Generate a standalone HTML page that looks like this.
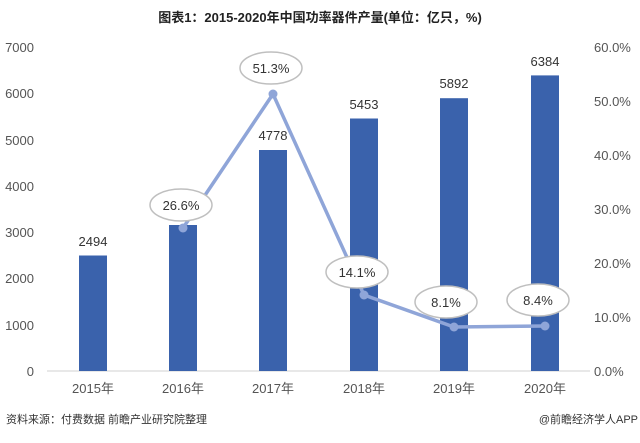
<!DOCTYPE html>
<html><head><meta charset="utf-8"><style>
body{margin:0;background:#fff;}
text{font-family:"Liberation Sans","Noto Sans CJK SC",sans-serif;}
</style></head><body>
<svg width="640" height="438" xmlns="http://www.w3.org/2000/svg">
<text x="320" y="22" text-anchor="middle" font-size="13" font-weight="bold" fill="#222">图表1：2015-2020年中国功率器件产量(单位：亿只，%)</text>
<g font-size="13" fill="#555" text-anchor="end">
<text x="34" y="52">7000</text><text x="34" y="98">6000</text><text x="34" y="145">5000</text><text x="34" y="191">4000</text><text x="34" y="237">3000</text><text x="34" y="283">2000</text><text x="34" y="330">1000</text><text x="34" y="376">0</text>
</g>
<g font-size="13" fill="#555" text-anchor="start">
<text x="594" y="52">60.0%</text><text x="594" y="106">50.0%</text><text x="594" y="160">40.0%</text><text x="594" y="214">30.0%</text><text x="594" y="268">20.0%</text><text x="594" y="322">10.0%</text><text x="594" y="376">0.0%</text>
</g>
<line x1="47" y1="371" x2="590" y2="371" stroke="#d0d0d0" stroke-width="1"/>
<g fill="#3a62ac">
<rect x="79" y="255.5" width="28" height="115.5"/>
<rect x="169" y="225" width="28" height="146"/>
<rect x="259" y="150" width="28" height="221"/>
<rect x="350" y="118.5" width="28" height="252.5"/>
<rect x="440" y="98.2" width="28" height="272.8"/>
<rect x="531" y="75.4" width="28" height="295.6"/>
</g>
<g font-size="13" fill="#333" text-anchor="middle">
<text x="93" y="246">2494</text><text x="273" y="140">4778</text><text x="364" y="109">5453</text><text x="454" y="88">5892</text><text x="545" y="66">6384</text>
</g>
<polyline points="183,228 273,94 364,295 454,327 545,326" fill="none" stroke="#8fa5d8" stroke-width="3.5"/>
<g fill="#8fa5d8"><circle cx="183" cy="228" r="4.5"/><circle cx="273" cy="94" r="4.5"/><circle cx="364" cy="295" r="4.5"/><circle cx="454" cy="327" r="4.5"/><circle cx="545" cy="326" r="4.5"/></g>
<g fill="#fff" stroke="#bfbfbf" stroke-width="1.5">
<ellipse cx="181" cy="205" rx="31" ry="16"/><ellipse cx="271" cy="68" rx="31" ry="16"/><ellipse cx="357" cy="272" rx="31" ry="16"/><ellipse cx="446" cy="302" rx="31" ry="16"/><ellipse cx="538" cy="300" rx="31" ry="16"/>
</g>
<g font-size="13" fill="#333" text-anchor="middle">
<text x="181" y="210">26.6%</text><text x="271" y="73">51.3%</text><text x="357" y="277">14.1%</text><text x="446" y="307">8.1%</text><text x="538" y="305">8.4%</text>
</g>
<g font-size="13" fill="#555" text-anchor="middle">
<text x="93" y="393">2015年</text><text x="183" y="393">2016年</text><text x="273" y="393">2017年</text><text x="364" y="393">2018年</text><text x="454" y="393">2019年</text><text x="545" y="393">2020年</text>
</g>
<text x="6" y="423" font-size="11" fill="#333">资料来源：付费数据 前瞻产业研究院整理</text>
<text x="638" y="423" font-size="11" fill="#333" text-anchor="end">@前瞻经济学人APP</text>
</svg>
</body></html>
